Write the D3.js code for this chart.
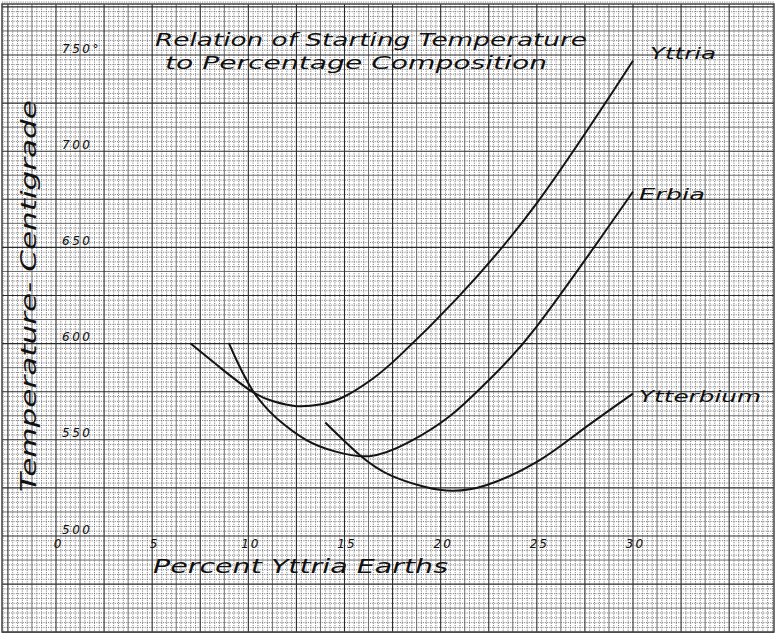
<!DOCTYPE html>
<html>
<head>
<meta charset="utf-8">
<title>Relation of Starting Temperature to Percentage Composition</title>
<script src="https://cdn.jsdelivr.net/npm/d3@7"></script>
<style>
  body { margin: 0; background: #fff; }
  svg { display: block; }
  text { font-family: "DejaVu Sans", sans-serif; font-style: italic; fill: #111; }
</style>
</head>
<body>
<svg id="chart" width="776" height="634"></svg>
<script>
// percent yttria earths vs starting temperature (deg C)
var yttria    = [[7,600],[8.6,587],[10.2,575],[11.3,570],[12.5,567.5],[13.8,568.5],[15,572.5],[16.5,582],[17.9,594],[20.8,623],[25,673],[30,747]];
var erbia     = [[9,600],[9.5,589],[10.2,576],[10.8,568],[11.5,561],[13,550],[14.5,544],[16.3,541.5],[18.3,548.5],[20.5,562.5],[22.4,580],[25,609],[30,679]];
var ytterbium = [[14,559],[15.8,542],[17.4,531.5],[19.2,525.5],[20.6,523.5],[22.4,526.5],[25,538.5],[27.2,554],[30,574]];

var seriesNames = ["Yttria", "Erbia", "Ytterbium"];
var xTicks = [0, 5, 10, 15, 20, 25, 30];
var yTicks = [500, 550, 600, 650, 700, 750];
var yTickLabels = ["500", "550", "600", "650", "700", "750°"];

var svg = d3.select("#chart");

var x = d3.scaleLinear().domain([0, 30]).range([56, 633]);
var y = d3.scaleLinear().domain([500, 750]).range([536, 55]);

// graph paper
var paper = svg.append("g");
paper.append("rect").attr("x", 2).attr("y", 4).attr("width", 772).attr("height", 628)
  .style("fill", "#fff");

var gx = d3.range(-2.75, 37.6, 0.25);
var gy = d3.range(450, 778.1, 2.5);
function kind(v, step) {
  var i = Math.round(v / step);
  if (i % 10 === 0) return "heavy";
  if (i % 5 === 0) return "mid";
  return "fine";
}
var styles = {
  fine:  { stroke: "#6e6e6e", w: 0.9, dash: "1.1 1.2" },
  mid:   { stroke: "#5a5a5a", w: 0.9, dash: null },
  heavy: { stroke: "#2a2a2a", w: 1.1, dash: null }
};
["fine", "mid", "heavy"].forEach(function (k) {
  paper.selectAll("line.v" + k)
    .data(gx.filter(function (d) { return kind(d, 0.25) === k }))
    .enter().append("line")
    .attr("x1", function (d) { return x(d) }).attr("x2", function (d) { return x(d) })
    .attr("y1", 4).attr("y2", 632)
    .style("stroke", styles[k].stroke).style("stroke-width", styles[k].w)
    .style("stroke-dasharray", styles[k].dash);
  paper.selectAll("line.h" + k)
    .data(gy.filter(function (d) { return kind(d, 2.5) === k }))
    .enter().append("line")
    .attr("y1", function (d) { return y(d) }).attr("y2", function (d) { return y(d) })
    .attr("x1", 2).attr("x2", 774)
    .style("stroke", styles[k].stroke).style("stroke-width", styles[k].w)
    .style("stroke-dasharray", styles[k].dash);
});
paper.append("rect").attr("x", 2).attr("y", 4).attr("width", 772).attr("height", 628)
  .style("fill", "none").style("stroke", "#444").style("stroke-width", 1.5);

// axes (labels only, lettered inside the grid)
var xAxis = svg.append("g").attr("transform", "translate(2," + (y(500) + 12) + ")")
  .call(d3.axisBottom(x).tickValues(xTicks).tickSize(0).tickPadding(0));
xAxis.select(".domain").remove();
xAxis.selectAll("text").attr("dy", null).attr("y", 0)
  .style("font-size", "12px").style("letter-spacing", "2px")
  .style("font-family", "DejaVu Sans").style("font-style", "italic").style("fill", "#111");

var yAxis = svg.append("g").attr("transform", "translate(" + (x(0) + 6) + ",-3)")
  .call(d3.axisRight(y).tickValues(yTicks).tickSize(0).tickPadding(0)
    .tickFormat(function (d, i) { return yTickLabels[i] }));
yAxis.select(".domain").remove();
yAxis.selectAll("text").attr("dy", null)
  .style("font-size", "12px").style("letter-spacing", "2.5px")
  .style("font-family", "DejaVu Sans").style("font-style", "italic").style("fill", "#111");

// curves
var line = d3.line()
  .x(function (d) { return x(d[0]) })
  .y(function (d) { return y(d[1]) })
  .curve(d3.curveNatural);

svg.selectAll("path.curve")
  .data([yttria, erbia, ytterbium])
  .enter().append("path")
  .attr("class", "curve")
  .attr("d", line)
  .style("fill", "none").style("stroke", "#141414").style("stroke-width", 2);

// curve names at the right-hand ends
var ends = [yttria, erbia, ytterbium].map(function (s) { return s[s.length - 1] });
var nameWidths = [66, 66, 122];
svg.selectAll("text.name")
  .data(seriesNames)
  .enter().append("text")
  .attr("class", "name")
  .attr("x", function (d, i) { return x(ends[i][0]) + (i === 0 ? 17 : 6) })
  .attr("y", function (d, i) { return y(ends[i][1]) + (i === 0 ? -2 : 8) })
  .attr("textLength", function (d, i) { return nameWidths[i] })
  .attr("lengthAdjust", "spacingAndGlyphs")
  .style("font-size", "15px")
  .text(function (d) { return d });

// titles
svg.append("text").attr("x", 155).attr("y", 46)
  .attr("textLength", 432).attr("lengthAdjust", "spacingAndGlyphs")
  .style("font-size", "18px")
  .text("Relation of Starting Temperature");
svg.append("text").attr("x", 165).attr("y", 69)
  .attr("textLength", 382).attr("lengthAdjust", "spacingAndGlyphs")
  .style("font-size", "18px")
  .text("to Percentage Composition");

svg.append("text").attr("x", 153).attr("y", 573)
  .attr("textLength", 295).attr("lengthAdjust", "spacingAndGlyphs")
  .style("font-size", "19px")
  .text("Percent Yttria Earths");

svg.append("text")
  .attr("transform", "translate(36,492) rotate(-90)")
  .attr("textLength", 392).attr("lengthAdjust", "spacingAndGlyphs")
  .style("font-size", "22px")
  .text("Temperature- Centigrade");
</script>
</body>
</html>
